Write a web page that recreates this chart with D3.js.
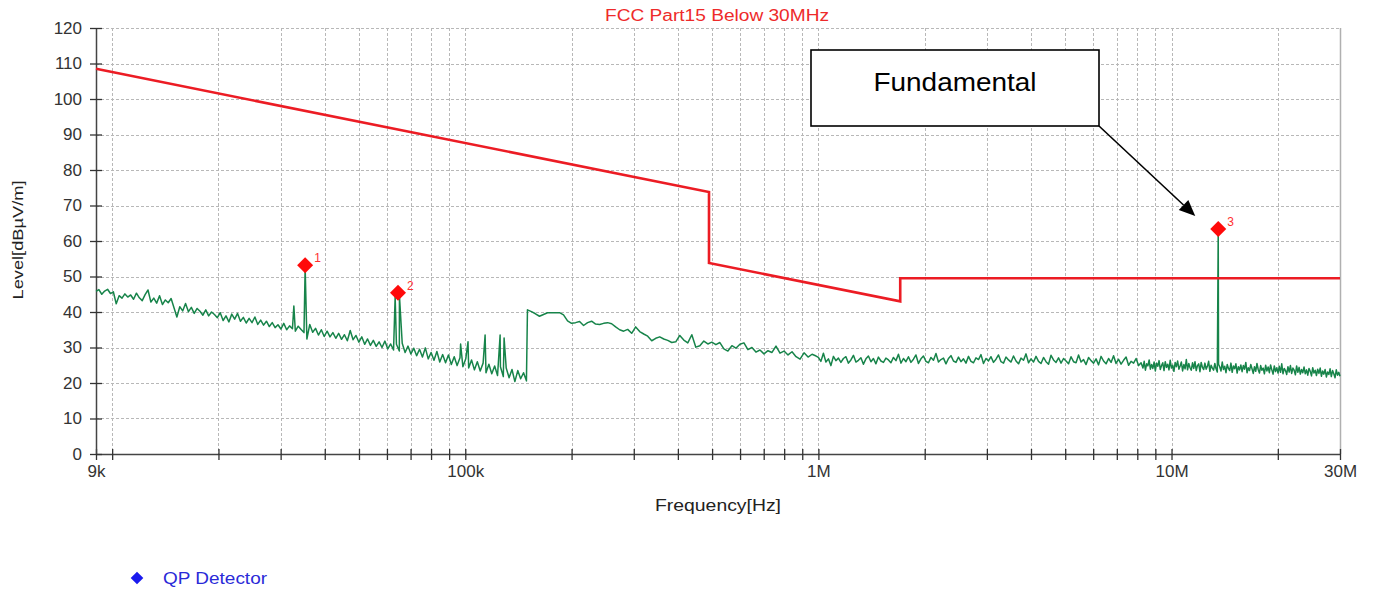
<!DOCTYPE html>
<html>
<head>
<meta charset="utf-8">
<script src="https://cdn.jsdelivr.net/npm/d3@7"></script>
<style>
  html, body { margin: 0; padding: 0; background: #fff; }
  svg { display: block; font-family: "Liberation Sans", Arial, sans-serif; }
</style>
</head>
<body>
<svg id="chart" width="1378" height="589"></svg>
<script>
// ---------------- DATA ----------------
const chartTitle = "FCC Part15 Below 30MHz";
const xAxisTitle = "Frequency[Hz]";
const yAxisTitle = "Level[dBµV/m]";
const legendLabel = "QP Detector";
const annotationText = "Fundamental";

const xDomain = [9e3, 30e6];
const yDomain = [0, 120];
const yTicks = [0, 10, 20, 30, 40, 50, 60, 70, 80, 90, 100, 110, 120];
const xLabelValues = [9e3, 1e5, 1e6, 1e7, 3e7];
const xLabelTexts = ["9k", "100k", "1M", "10M", "30M"];

// Limit line (FCC Part 15)
const limitFreqs  = [9e3, 490e3, 490e3, 1.705e6, 1.705e6, 30e6];
const limitLevels = [108.5, 73.8, 53.8, 43.0, 49.5, 49.5];

// Marker (QP) points
const markerFreqs  = [35.2e3, 64.5e3, 13.56e6];
const markerLevels = [53.2, 45.4, 63.4];
const markerLabels = ["1", "2", "3"];

// Trace sweep segments (start, stop) and their levels
const segAFreqRange = [9e3, 149e3];
const segALevels = [
  45.8,46.3,45.0,45.9,46.4,45.2,45.7,42.3,44.6,43.9,
  45.1,44.2,44.8,43.6,45.3,44.0,43.2,44.9,46.2,42.8,
  43.9,42.5,44.6,42.1,43.4,42.6,43.8,41.2,38.6,41.5,
  40.3,42.4,40.1,41.3,39.6,41.0,40.2,39.1,40.6,38.9,
  40.0,39.3,38.4,39.8,37.6,38.9,37.2,39.4,38.0,39.6,
  37.4,38.5,36.9,38.2,37.0,38.6,36.5,37.7,36.3,37.4,
  35.9,37.0,35.6,36.4,35.2,36.8,35.0,36.1,35.3,34.6,
  36.0,35.1,34.2,32.4,36.5,34.3,35.4,33.5,35.0,33.1,
  34.6,33.0,34.2,32.6,34.0,32.3,33.6,31.9,34.8,32.2,
  33.4,31.5,33.0,30.9,32.4,30.6,32.0,30.3,31.6,30.0,
  31.8,29.6,31.0,29.3,30.9,29.0,31.2,28.6,30.4,28.2,
  29.8,27.7,29.5,27.3,29.9,26.8,28.6,26.4,28.9,25.9,
  28.0,25.7,27.9,25.2,27.4,24.9,27.1,24.6,26.8,24.2,
  26.5,23.7,26.0,23.4,25.6,22.9,25.3,22.6,24.8,22.1,
  24.6,21.8,24.2,21.5,23.8,20.4,23.5,21.2,22.9,20.6
];
const segBFreqRange = [150e3, 985e3];
const segBLevels = [
  40.6,40.1,39.5,38.8,39.3,39.8,39.8,39.8,39.8,39.2,
  37.5,36.8,37.0,37.3,36.2,37.0,37.4,36.6,36.5,36.8,
  37.0,36.7,35.8,35.0,34.6,35.1,34.0,35.8,34.5,33.8,
  33.2,31.9,32.6,33.0,32.4,32.0,31.4,31.6,33.4,32.1,
  31.3,33.6,30.1,30.5,31.8,31.0,31.5,30.8,31.4,29.6,
  29.0,30.5,29.8,30.9,31.3,29.4,30.0,28.7,29.3,28.2,
  29.1,28.6,30.4,28.4,29.0,27.9,28.8,27.4,26.7,28.5,
  27.3,28.1,27.6
];
const segCFreqRange = [1e6, 8.2e6];
const segCLevels = [
  27.2,26.1,28.4,25.9,26.8,24.9,27.5,26.3,27.0,25.8,
  26.9,27.4,25.6,26.5,27.8,25.9,26.4,27.1,25.3,26.8,
  27.6,26.0,26.9,25.4,27.3,26.2,25.8,27.0,26.5,25.7,
  27.2,26.3,28.1,25.6,26.9,26.0,27.4,25.8,26.7,27.9,
  25.5,26.8,27.6,26.1,25.7,27.2,26.4,28.3,25.9,26.6,
  27.0,25.4,26.9,27.7,26.2,25.8,27.3,26.0,26.8,25.6,
  27.5,26.1,25.7,27.1,26.6,28.0,25.5,26.9,26.2,27.4,
  25.8,26.7,27.9,26.0,25.6,27.3,26.5,25.9,27.6,26.2,
  25.4,27.0,26.4,28.2,25.7,26.8,25.9,27.5,26.1,25.5,
  27.2,26.0,25.3,27.8,26.5,25.8,27.1,25.6,26.9,26.2,
  25.4,27.4,26.0,25.7,27.9,25.9,26.6,25.2,27.2,26.3,
  25.6,26.8,25.1,27.5,26.2,25.4,26.9,25.8,27.7,25.5,
  26.7,25.3,26.4,27.3,25.0,26.1,25.6,26.9,24.9,25.7
];
const segDFreqRange = [8.3e6, 30e6];
const segDLevels = [
  24.2,26.1,23.6,25.4,24.8,26.5,23.9,25.2,24.1,25.9,
  23.4,25.6,24.7,26.3,23.8,24.9,25.7,23.5,26.0,24.4,
  25.3,23.7,26.4,24.2,25.0,23.3,25.8,24.6,26.2,23.9,
  24.8,25.9,23.4,25.2,24.0,26.6,23.7,25.5,24.3,23.6,
  25.7,24.1,26.0,23.5,24.9,25.4,23.2,25.8,24.4,23.8,
  25.6,23.9,24.7,26.1,23.3,25.0,24.2,23.6,25.5,24.0,
  23.1,25.3,24.5,23.4,25.9,23.8,24.7,22.9,25.2,24.1,
  23.5,25.6,23.0,24.8,24.0,25.4,22.8,24.6,23.7,25.1,
  23.2,24.9,23.9,25.8,22.9,24.3,23.5,25.2,24.0,22.7,
  24.6,23.3,25.5,23.8,22.8,24.9,23.6,24.2,22.6,25.0,
  23.4,24.5,22.9,25.1,23.7,22.5,24.8,23.2,24.3,22.8,
  24.7,23.0,25.4,22.6,24.1,23.5,22.4,24.6,23.1,24.9,
  22.7,24.2,23.6,22.3,24.8,23.0,24.4,22.5,23.8,22.9,
  24.5,22.6,23.7,22.2,24.1,23.3,22.0,24.3,22.8,23.6,
  22.1,23.9,22.7,24.2,21.9,23.4,22.5,23.8,21.7,23.1,
  22.4,24.0,21.8,23.5,22.6,21.5,23.7,22.2,23.0,21.9
];
// Narrow emissions (spikes) within the trace
const spikeFreqs  = [32.7e3, 35.2e3, 63.3e3, 65.1e3, 97e3, 101.8e3, 113.8e3, 125.5e3, 128.8e3, 13.56e6];
const spikeLevels = [41.7, 52.6, 44.3, 44.6, 31.0, 31.6, 33.5, 33.5, 32.7, 62.8];

// ---------------- LAYOUT ----------------
const svg = d3.select("#chart");
const plot = { left: 96, right: 1340, top: 28, bottom: 454 };

const x = d3.scaleLog().domain(xDomain).range([plot.left, plot.right]);
const y = d3.scaleLinear().domain(yDomain).range([plot.bottom, plot.top]);

svg.append("rect").attr("width", 1378).attr("height", 589).attr("fill", "#fff");

// minor/major log ticks
const xTickValues = [];
[1e3, 1e4, 1e5, 1e6, 1e7].forEach(d => {
  for (let m = 1; m <= 9; m++) {
    const v = m * d;
    if (v >= xDomain[0] - 1 && v <= xDomain[1] + 1) xTickValues.push(v);
  }
});

// grid
const grid = svg.append("g").attr("stroke", "#b8b8b8").attr("stroke-width", 1)
  .attr("stroke-dasharray", "3,2").attr("shape-rendering", "crispEdges");
grid.selectAll("line.h").data(yTicks.filter(t => t > 0)).join("line")
  .attr("x1", plot.left).attr("x2", plot.right)
  .attr("y1", d => Math.round(y(d)) + 0.5).attr("y2", d => Math.round(y(d)) + 0.5);
grid.selectAll("line.v").data(xTickValues.filter(v => v > xDomain[0] && v < xDomain[1])).join("line")
  .attr("y1", plot.top).attr("y2", plot.bottom)
  .attr("x1", d => Math.round(x(d)) + 0.5).attr("x2", d => Math.round(x(d)) + 0.5);

// right border
svg.append("line").attr("x1", plot.right + 0.5).attr("x2", plot.right + 0.5)
  .attr("y1", plot.top).attr("y2", plot.bottom).attr("stroke", "#b0b0b0").attr("stroke-width", 1.5);

// axes
const xAxis = d3.axisBottom(x).tickValues(xTickValues)
  .tickFormat(v => { const i = xLabelValues.findIndex(t => Math.abs(t - v) / v < 1e-6); return i >= 0 ? xLabelTexts[i] : ""; })
  .tickSizeOuter(0).tickPadding(5);
const gx = svg.append("g").attr("transform", `translate(0,${plot.bottom})`).call(xAxis);
gx.select(".domain").attr("stroke", "#444").attr("stroke-width", 1.5);
gx.selectAll(".tick line").attr("y1", -5).attr("y2", 6).attr("stroke", "#333").attr("stroke-width", 1.3);
gx.selectAll(".tick text").attr("font-size", 17).attr("fill", "#333")
  .attr("font-family", "Liberation Sans, Arial, sans-serif").attr("dy", "0.71em");

const yAxis = d3.axisLeft(y).tickValues(yTicks).tickFormat(d3.format("d")).tickSizeOuter(0).tickPadding(8);
const gy = svg.append("g").attr("transform", `translate(${plot.left},0)`).call(yAxis);
gy.select(".domain").attr("stroke", "#444").attr("stroke-width", 1.5);
gy.selectAll(".tick line").attr("x1", -6).attr("x2", 6).attr("stroke", "#333").attr("stroke-width", 1.3);
gy.selectAll(".tick text").attr("font-size", 17).attr("fill", "#333")
  .attr("font-family", "Liberation Sans, Arial, sans-serif");

// titles
svg.append("text").attr("x", 717).attr("y", 21).attr("text-anchor", "middle")
  .attr("font-size", 16).attr("textLength", 224).attr("lengthAdjust", "spacingAndGlyphs")
  .attr("fill", "#ee2a2a").text(chartTitle);
svg.append("text").attr("x", 718).attr("y", 511).attr("text-anchor", "middle")
  .attr("font-size", 17).attr("textLength", 126).attr("lengthAdjust", "spacingAndGlyphs")
  .attr("fill", "#222").text(xAxisTitle);
svg.append("text").attr("transform", "translate(23,240) rotate(-90)").attr("text-anchor", "middle")
  .attr("font-size", 15.5).attr("textLength", 119).attr("lengthAdjust", "spacingAndGlyphs")
  .attr("fill", "#222").text(yAxisTitle);

// trace data
function segment(range, levels) {
  const n = levels.length;
  const r = range[1] / range[0];
  return levels.map((v, i) => ({ f: range[0] * Math.pow(r, i / (n - 1)), v }));
}
const tracePts = [
  ...segment(segAFreqRange, segALevels),
  ...segment(segBFreqRange, segBLevels),
  ...segment(segCFreqRange, segCLevels),
  ...segment(segDFreqRange, segDLevels),
  ...spikeFreqs.map((f, i) => ({ f, v: spikeLevels[i] }))
].sort((a, b) => a.f - b.f);

const line = d3.line().x(d => x(d.f)).y(d => y(d.v));
svg.append("path").datum(tracePts).attr("d", line)
  .attr("fill", "none").attr("stroke", "#17844a").attr("stroke-width", 1.5)
  .attr("stroke-linejoin", "round");

// limit line
const limitPts = limitFreqs.map((f, i) => ({ f, v: limitLevels[i] }));
svg.append("path").datum(limitPts).attr("d", line)
  .attr("fill", "none").attr("stroke", "#ec1c24").attr("stroke-width", 2.6);

// markers
const markerPts = markerFreqs.map((f, i) => ({ f, v: markerLevels[i], label: markerLabels[i] }));
const diamond = d3.symbol().type(d3.symbolSquare).size(128);
const mg = svg.append("g");
mg.selectAll("path").data(markerPts).join("path")
  .attr("d", diamond)
  .attr("transform", d => `translate(${x(d.f)},${y(d.v)}) rotate(45)`)
  .attr("fill", "#ff0a0a");
mg.selectAll("text").data(markerPts).join("text")
  .attr("x", d => x(d.f) + 9).attr("y", d => y(d.v) - 3)
  .attr("font-size", 12).attr("fill", "#ff3030").text(d => d.label);

// annotation box + arrow
const ann = svg.append("g");
ann.append("rect").attr("x", 811).attr("y", 50).attr("width", 288).attr("height", 76)
  .attr("fill", "#fff").attr("stroke", "#000").attr("stroke-width", 1.6);
ann.append("text").attr("x", 955).attr("y", 91).attr("text-anchor", "middle")
  .attr("font-size", 25).attr("textLength", 163).attr("lengthAdjust", "spacingAndGlyphs")
  .attr("fill", "#000").text(annotationText);
const tip = [x(markerFreqs[2]) - 23, y(markerLevels[2]) - 13];
const start = [1099, 126];
const ang = Math.atan2(tip[1] - start[1], tip[0] - start[0]);
const hl = 16, hw = 7;
const base = [tip[0] - hl * Math.cos(ang), tip[1] - hl * Math.sin(ang)];
ann.append("line").attr("x1", start[0]).attr("y1", start[1]).attr("x2", base[0]).attr("y2", base[1])
  .attr("stroke", "#000").attr("stroke-width", 1.6);
ann.append("path").attr("d", `M${tip[0]},${tip[1]} L${base[0] + hw * Math.sin(ang)},${base[1] - hw * Math.cos(ang)} L${base[0] - hw * Math.sin(ang)},${base[1] + hw * Math.cos(ang)} Z`)
  .attr("fill", "#000");

// legend
svg.append("path").attr("d", d3.symbol().type(d3.symbolSquare).size(80))
  .attr("transform", "translate(137,578) rotate(45)").attr("fill", "#1a1aee");
svg.append("text").attr("x", 163).attr("y", 584).attr("font-size", 16.5)
  .attr("textLength", 104).attr("lengthAdjust", "spacingAndGlyphs")
  .attr("fill", "#2a2ad8").text(legendLabel);
</script>
</body>
</html>
